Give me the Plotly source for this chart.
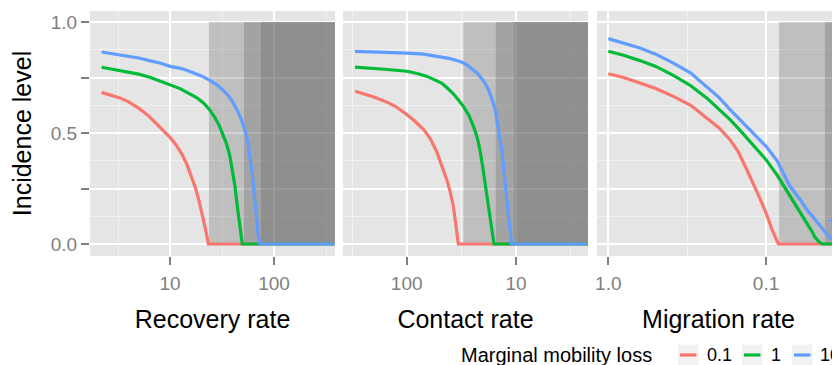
import plotly.graph_objects as go

# ---------------- data ----------------
series_names = ["0.1", "1", "10"]
series_colors = ["#F8766D", "#00BA38", "#619CFF"]

# Panel 1: Recovery rate
recovery_x_01 = [2.2, 2.7, 3.3, 4, 5, 6.3, 8, 10, 11.5, 13, 14.5, 16, 17.5, 19, 20.5, 22, 23.4, 380]
recovery_y_01 = [0.683, 0.672, 0.658, 0.64, 0.612, 0.575, 0.525, 0.48, 0.445, 0.405, 0.36, 0.31, 0.255, 0.195, 0.13, 0.065, 0, 0]
recovery_x_1 = [2.2, 3, 4, 5, 6.5, 8, 10, 12.5, 15, 18, 21, 24, 27, 30, 33, 35, 37.5, 40, 42, 44, 46, 48, 49.5, 380]
recovery_y_1 = [0.796, 0.785, 0.775, 0.765, 0.75, 0.735, 0.718, 0.70, 0.68, 0.66, 0.635, 0.605, 0.57, 0.53, 0.48, 0.45, 0.40, 0.33, 0.265, 0.185, 0.12, 0.055, 0, 0]
recovery_x_10 = [2.2, 3, 4, 5, 6.5, 8, 10, 13, 16, 20, 24, 28, 32, 36, 40, 44, 48, 52, 56, 60, 62, 64, 66, 68, 70, 73, 380]
recovery_y_10 = [0.865, 0.855, 0.847, 0.838, 0.825, 0.815, 0.80, 0.79, 0.775, 0.757, 0.738, 0.718, 0.695, 0.67, 0.64, 0.605, 0.565, 0.52, 0.46, 0.37, 0.31, 0.245, 0.17, 0.105, 0.055, 0, 0]
recovery_thresholds = [23.7, 51.4, 75]

# Panel 2: Contact rate
contact_x_01 = [297, 250, 200, 150, 125, 100, 85, 70, 61, 53, 47, 43, 40, 37.4, 35.4, 33.7, 2.2]
contact_y_01 = [0.688, 0.678, 0.662, 0.638, 0.618, 0.583, 0.555, 0.515, 0.475, 0.415, 0.345, 0.29, 0.235, 0.17, 0.08, 0, 0]
contact_x_1 = [297, 200, 150, 100, 80, 65, 55, 48, 43, 38, 34, 30.3, 27, 24.5, 22.5, 21.4, 20.2, 19.2, 17.9, 17.3, 16.7, 15.9, 2.2]
contact_y_1 = [0.797, 0.792, 0.786, 0.778, 0.768, 0.755, 0.74, 0.725, 0.705, 0.68, 0.652, 0.62, 0.58, 0.53, 0.475, 0.425, 0.35, 0.275, 0.155, 0.10, 0.05, 0, 0]
contact_x_10 = [297, 200, 100, 70, 50, 40, 33, 30, 27, 24.5, 22.5, 21, 19.5, 18, 17, 16, 15.3, 14.6, 14, 13.5, 13, 12.6, 12.1, 11.7, 11.3, 10.95, 2.2]
contact_y_10 = [0.868, 0.866, 0.86, 0.855, 0.843, 0.835, 0.823, 0.815, 0.80, 0.785, 0.768, 0.75, 0.73, 0.70, 0.67, 0.63, 0.59, 0.53, 0.475, 0.425, 0.35, 0.275, 0.2, 0.125, 0.06, 0, 0]
contact_thresholds = [30.3, 15.3, 10.4]

# Panel 3: Migration rate
migration_x_01 = [1.0, 0.8, 0.63, 0.5, 0.387, 0.3, 0.238, 0.2, 0.169, 0.15, 0.133, 0.12, 0.109, 0.1, 0.092, 0.0835, 0.038]
migration_y_01 = [0.767, 0.75, 0.725, 0.70, 0.665, 0.625, 0.568, 0.525, 0.47, 0.415, 0.338, 0.27, 0.203, 0.14, 0.068, 0, 0]
migration_x_1 = [1.0, 0.8, 0.63, 0.5, 0.387, 0.3, 0.238, 0.2, 0.169, 0.146, 0.12, 0.1, 0.085, 0.0705, 0.06, 0.0552, 0.051, 0.0489, 0.0465, 0.0445, 0.0436, 0.038]
migration_y_1 = [0.868, 0.85, 0.826, 0.80, 0.76, 0.713, 0.658, 0.61, 0.56, 0.512, 0.445, 0.38, 0.31, 0.218, 0.14, 0.098, 0.055, 0.03, 0.012, 0.003, 0, 0]
migration_x_10 = [1.0, 0.8, 0.63, 0.5, 0.387, 0.3, 0.238, 0.2, 0.169, 0.146, 0.12, 0.1, 0.085, 0.0705, 0.06, 0.0552, 0.0489, 0.0436, 0.041, 0.0385]
migration_y_10 = [0.925, 0.905, 0.883, 0.855, 0.815, 0.77, 0.71, 0.662, 0.605, 0.56, 0.50, 0.44, 0.375, 0.26, 0.195, 0.155, 0.11, 0.067, 0.04, 0.02]
migration_thresholds = [0.0827, 0.0423]

dagger_x = [0.0383]
dagger_y = [0.085]

x_titles = ["Recovery rate", "Contact rate", "Migration rate"]
x_tickvals = [[10, 100], [100, 10], [1.0, 0.1]]
x_ticktext = [["10", "100"], ["100", "10"], ["1.0", "0.1"]]
x_minor = [[10 ** 0.5, 10 ** 1.5, 10 ** 2.5], [10 ** 0.5, 10 ** 1.5, 10 ** 2.5], [10 ** -0.5, 10 ** -1.5]]
y_tickvals = [0, 0.25, 0.5, 0.75, 1.0]
y_ticktext = ["0.0", "", "0.5", "", "1.0"]
y_minor = [0.125, 0.375, 0.625, 0.875]

# ---------------- layout constants ----------------
# the page body has an 8px margin, so the figure sits at (8, 8) in the window
OFF = 8
W, H = 840 - OFF, 365 - OFF
ML, MR, MT = 90 - OFF, 0, 11 - OFF
MB = H - (256 - OFF)
PW, PH = W - ML - MR, H - MT - MB
FONT = "Liberation Sans, Arial, Helvetica, sans-serif"
x_ranges = [[0.2308, 2.5865], [2.583, 0.341], [0.0717, -1.469]]
domains = [[0, 245 / PW], [253 / PW, 498 / PW], [507 / PW, 1.0]]
y_range = [-0.054, 1.0495]

panels = [
    ([(recovery_x_01, recovery_y_01), (recovery_x_1, recovery_y_1), (recovery_x_10, recovery_y_10)], recovery_thresholds),
    ([(contact_x_01, contact_y_01), (contact_x_1, contact_y_1), (contact_x_10, contact_y_10)], contact_thresholds),
    ([(migration_x_01, migration_y_01), (migration_x_1, migration_y_1), (migration_x_10, migration_y_10)], migration_thresholds),
]

fig = go.Figure()
for i, (curves, thr) in enumerate(panels):
    xa = "x" if i == 0 else f"x{i+1}"
    ya = "y" if i == 0 else f"y{i+1}"
    far = 10 ** x_ranges[i][1]
    for t in thr:
        fig.add_trace(go.Scatter(
            x=[t, far, far, t, t], y=[0, 0, 1, 1, 0], xaxis=xa, yaxis=ya,
            mode="lines", fill="toself", fillcolor="rgba(89,89,89,0.27)",
            line=dict(width=0), hoverinfo="skip", showlegend=False))
    for (xs, ys), name, col in zip(curves, series_names, series_colors):
        fig.add_trace(go.Scatter(
            x=xs, y=ys, xaxis=xa, yaxis=ya, mode="lines", name=name,
            line=dict(color=col, width=3.2), showlegend=False))

fig.add_trace(go.Scatter(x=dagger_x, y=dagger_y, xaxis="x3", yaxis="y3", mode="text",
                         text=["†"], textfont=dict(color=series_colors[2], size=19, family=FONT),
                         showlegend=False, hoverinfo="skip", cliponaxis=False))

layout = dict(
    width=W, height=H, margin=dict(l=ML, r=MR, t=MT, b=MB),
    paper_bgcolor="white", plot_bgcolor="#E5E5E5",
    font=dict(family=FONT, color="black"), showlegend=False,
)
for i in range(3):
    xk = "xaxis" if i == 0 else f"xaxis{i+1}"
    yk = "yaxis" if i == 0 else f"yaxis{i+1}"
    ya = "y" if i == 0 else f"y{i+1}"
    xa = "x" if i == 0 else f"x{i+1}"
    layout[xk] = dict(
        type="log", range=x_ranges[i], domain=domains[i], anchor=ya,
        tickvals=x_tickvals[i], ticktext=x_ticktext[i],
        ticks="outside", ticklen=8, tickwidth=2, tickcolor="#7F7F7F",
        tickfont=dict(size=19, color="#7F7F7F", family=FONT), ticklabelstandoff=2,
        showgrid=True, gridcolor="white", gridwidth=2, zeroline=False,
        showline=False,
        minor=dict(tickvals=x_minor[i], showgrid=True, gridcolor="#F2F2F2", gridwidth=1, ticks=""),
        title=dict(text=x_titles[i], font=dict(size=25, color="black", family=FONT), standoff=17),
        automargin=False,
    )
    layout[yk] = dict(
        range=y_range, domain=[0, 1], anchor=xa,
        tickvals=y_tickvals, ticktext=y_ticktext,
        ticks="outside" if i == 0 else "", ticklen=8, tickwidth=2, tickcolor="#7F7F7F",
        showticklabels=(i == 0),
        tickfont=dict(size=19, color="#7F7F7F", family=FONT),
        showgrid=True, gridcolor="white", gridwidth=2, zeroline=False, showline=False,
        minor=dict(tickvals=y_minor, showgrid=True, gridcolor="#F2F2F2", gridwidth=1, ticks=""),
        automargin=False,
    )
    if i == 0:
        layout[yk]["title"] = dict(text="Incidence level", font=dict(size=25, color="black", family=FONT), standoff=15)
fig.update_layout(**layout)


def px_x(px):
    return (px - OFF - ML) / PW


def px_y(py):
    return (H - MB - (py - OFF)) / PH


# manual legend
fig.add_annotation(x=px_x(459), y=px_y(355), xref="paper", yref="paper", text="Marginal mobility loss",
                   showarrow=False, xanchor="left", yanchor="middle",
                   font=dict(size=20, color="black", family=FONT))
key_left = [677.5, 741.5, 791.5]
label_left = [705, 769, 818]
for kl, ll, name, col in zip(key_left, label_left, series_names, series_colors):
    fig.add_shape(type="rect", xref="paper", yref="paper", x0=px_x(kl), x1=px_x(kl + 21.5),
                  y0=px_y(344), y1=px_y(366), fillcolor="#F2F2F2", line=dict(color="white", width=1))
    fig.add_shape(type="line", xref="paper", yref="paper", x0=px_x(kl + 2.5), x1=px_x(kl + 19),
                  y0=px_y(355), y1=px_y(355), line=dict(color=col, width=3.2))
    fig.add_annotation(x=px_x(ll), y=px_y(355), xref="paper", yref="paper", text=name,
                       showarrow=False, xanchor="left", yanchor="middle",
                       font=dict(size=18, color="black", family=FONT))

fig.write_html("out.html")
